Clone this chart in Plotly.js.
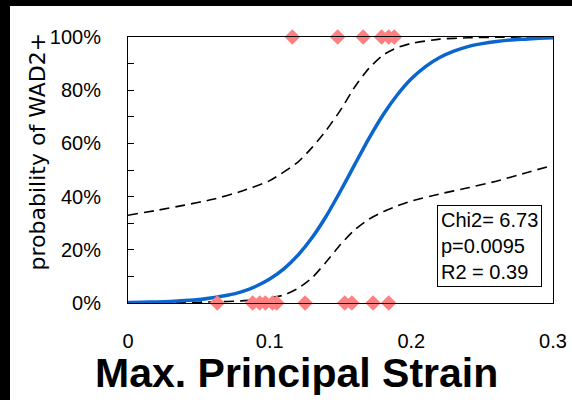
<!DOCTYPE html>
<html>
<head>
<meta charset="utf-8">
<script src="https://cdn.plot.ly/plotly-3.0.1.min.js"></script>
<style>
  html, body { margin: 0; padding: 0; background: #000; width: 572px; height: 400px; overflow: hidden; }
  #chart { position: absolute; left: 10px; top: 6px; width: 562px; height: 394px; background: #fff; }
</style>
</head>
<body>
<div id="chart"></div>
<script>
// Fitted probability curve
const curveX = [0, 0.01, 0.02, 0.03, 0.04, 0.05, 0.06, 0.07, 0.08, 0.09, 0.10, 0.11, 0.12, 0.13, 0.14, 0.15,
                0.16, 0.17, 0.18, 0.19, 0.20, 0.21, 0.22, 0.23, 0.24, 0.25, 0.26, 0.27, 0.28, 0.29, 0.30];
const curveP = [0.002, 0.003, 0.004, 0.006, 0.009, 0.013, 0.020, 0.029, 0.042, 0.062, 0.090, 0.128, 0.180, 0.246, 0.327, 0.421,
                0.520, 0.618, 0.707, 0.782, 0.843, 0.889, 0.923, 0.947, 0.964, 0.975, 0.983, 0.989, 0.992, 0.995, 0.997];

// Confidence band (dashed)
const upperX = [0, 0.02, 0.04, 0.06, 0.08, 0.10, 0.12, 0.13, 0.14, 0.15, 0.16, 0.17, 0.18, 0.19, 0.20, 0.22, 0.24, 0.26, 0.28, 0.30];
const upperP = [0.330, 0.348, 0.368, 0.390, 0.420, 0.460, 0.530, 0.585, 0.650, 0.725, 0.812, 0.882, 0.932, 0.960, 0.976, 0.992, 0.997, 0.999, 1.000, 1.000];
const lowerX = [0, 0.02, 0.04, 0.06, 0.08, 0.09, 0.10, 0.11, 0.12, 0.13, 0.14, 0.15, 0.16, 0.17, 0.18, 0.19, 0.20, 0.22, 0.24, 0.26, 0.28, 0.30];
const lowerP = [0.0005, 0.001, 0.002, 0.004, 0.008, 0.012, 0.018, 0.030, 0.055, 0.095, 0.155, 0.220, 0.275, 0.315, 0.343, 0.365, 0.383, 0.410, 0.433, 0.458, 0.488, 0.518];

// Observed cases
const posX = [0.116, 0.148, 0.166, 0.179, 0.184, 0.188];            // WAD2+ (100%)
const posY = posX.map(() => 1);
const negX = [0.063, 0.088, 0.093, 0.097, 0.102, 0.105, 0.125, 0.153, 0.158, 0.173, 0.184]; // (0%)
const negY = negX.map(() => 0);

const yTickVals = [0, 0.2, 0.4, 0.6, 0.8, 1.0];
const yTickText = ['0%', '20%', '40%', '60%', '80%', '100%'];
const xTickVals = [0, 0.1, 0.2, 0.3];
const xTickText = ['0', '0.1', '0.2', '0.3'];

const statsText = 'Chi2= 6.73<br>p=0.0095<br>R2 = 0.39';
const xTitle = 'Max. Principal Strain';
const yTitle = 'probability of WAD2+';

const baseFont = 'Arial, "Liberation Sans", sans-serif';

const traces = [
  { x: upperX, y: upperP, mode: 'lines', line: { color: '#000', width: 1.6, dash: '10px,6px', shape: 'spline', smoothing: 0.6 }, hoverinfo: 'skip' },
  { x: lowerX, y: lowerP, mode: 'lines', line: { color: '#000', width: 1.6, dash: '10px,6px', shape: 'spline', smoothing: 0.6 }, hoverinfo: 'skip' },
  { x: curveX, y: curveP, mode: 'lines', line: { color: '#0A66CC', width: 3.5, shape: 'spline', smoothing: 0.6 } },
  { x: posX, y: posY, mode: 'markers', marker: { symbol: 'diamond', size: 12, color: '#FF8080' }, cliponaxis: false },
  { x: negX, y: negY, mode: 'markers', marker: { symbol: 'diamond', size: 12, color: '#FF8080' }, cliponaxis: false }
];

const layout = {
  width: 562, height: 394,
  margin: { l: 118, r: 19, t: 31, b: 97 },
  paper_bgcolor: '#fff', plot_bgcolor: '#fff',
  showlegend: false,
  font: { family: baseFont, size: 20, color: '#000' },
  xaxis: {
    range: [0, 0.3], showgrid: false, zeroline: false,
    showline: true, linecolor: '#000', linewidth: 1, mirror: true,
    ticks: '', tickvals: xTickVals, ticktext: xTickText,
    tickfont: { family: baseFont, size: 20, color: '#000' },
    ticklabelstandoff: 20
  },
  yaxis: {
    range: [0, 1], showgrid: false, zeroline: false,
    showline: true, linecolor: '#000', linewidth: 1, mirror: true,
    ticks: 'inside', ticklen: 6, tickcolor: '#000',
    tickvals: yTickVals, ticktext: yTickText,
    minor: { ticks: 'inside', ticklen: 6, dtick: 0.1, tickcolor: '#000' },
    tickfont: { family: baseFont, size: 20, color: '#000' },
    ticklabelstandoff: 22
  },
  annotations: [
    { xref: 'paper', yref: 'paper', x: 0.396, y: -0.262, xanchor: 'center', yanchor: 'middle',
      text: '<b>' + xTitle + '</b>', showarrow: false, font: { family: baseFont, size: 41, color: '#000' } },
    { xref: 'paper', yref: 'paper', x: -0.214, y: 0.57, xanchor: 'center', yanchor: 'middle', textangle: -90,
      text: yTitle, showarrow: false, font: { family: '"DejaVu Sans", sans-serif', size: 22, color: '#000' } },
    { xref: 'paper', yref: 'paper', x: 0.85, y: 0.2136, xanchor: 'center', yanchor: 'middle', align: 'left',
      text: statsText, showarrow: false, bgcolor: '#fff', bordercolor: '#000', borderwidth: 1, borderpad: 3,
      font: { family: baseFont, size: 20, color: '#000' } }
  ]
};

Plotly.newPlot('chart', traces, layout, { displayModeBar: false, staticPlot: true });
</script>
</body>
</html>
